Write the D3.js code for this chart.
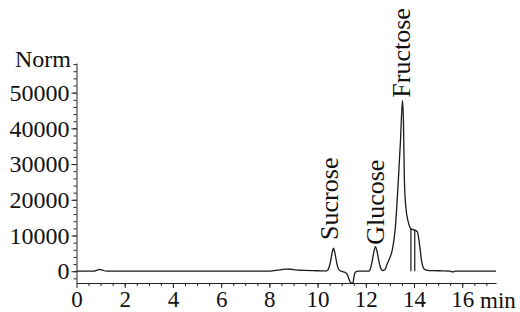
<!DOCTYPE html>
<html>
<head>
<meta charset="utf-8">
<script src="https://cdn.jsdelivr.net/npm/d3@7"></script>
<style>
  body { margin: 0; background: #fff; }
  svg { display: block; }
  text { font-family: "Liberation Serif", "Times New Roman", serif; fill: #111; }
</style>
</head>
<body>
<div id="chart"></div>
<script>
// Chromatogram trace (min, Norm)
const timeMin = [
  0.00, 0.70, 0.85, 0.95, 1.05, 1.25, 3.00, 5.00, 7.00, 7.90,
  8.20, 8.50, 8.70, 8.90, 9.10, 9.40, 9.80, 10.20, 10.35, 10.42,
  10.49, 10.55, 10.61, 10.66, 10.71, 10.77, 10.83, 10.90, 10.98, 11.08,
  11.15, 11.25, 11.32, 11.38, 11.47, 11.50, 11.54, 11.60, 11.68, 11.90,
  12.12, 12.20, 12.27, 12.34, 12.40, 12.46, 12.52, 12.59, 12.66, 12.72,
  12.80, 12.87, 13.00, 13.10, 13.22, 13.35, 13.44, 13.52, 13.56, 13.60,
  13.66, 13.76, 13.88, 14.00, 14.14, 14.23, 14.32, 14.42, 14.55, 14.80,
  15.20, 15.50, 15.60, 15.70, 16.00, 17.40
];
const signal = [
  0, 0, 300, 500, 350, 0, 0, 0, 0, 0,
  150, 450, 600, 550, 350, 250, 150, 100, 50, 300,
  1400, 3200, 5400, 6440, 5400, 3200, 1300, 300, 0, -200,
  -300, -1200, -2600, -3300, -3300, -2000, -600, -100, 0, 0,
  0, 900, 3000, 5600, 6900, 5700, 3600, 1400, 400, 200,
  500, 1760, 3800, 5970, 11850, 25570, 36800, 47790, 42400, 25570,
  18000, 13800, 11850, 11570, 11000, 7370, 2600, 640, 250, 150,
  100, 0, -200, 0, 0, 0
];

// Peak labels
const peakNames = ["Sucrose", "Glucose", "Fructose"];
const peakLabelTime = [10.54, 12.42, 13.49];
const peakLabelValue = [8770, 7400, 48600];

// Integration drop lines under the fructose shoulder
const splitTime = [13.87, 14.03];
const splitValue = [11850, 11600];

// Ticks
const xTicks = [0, 2, 4, 6, 8, 10, 12, 14, 16];
const xMinor = d3.range(0.5, 17.1, 0.5);
const yTicks = [0, 10000, 20000, 30000, 40000, 50000];
const yMinor = d3.range(-2000, 58001, 2000);

const width = 520, height = 312;

const svg = d3.select("#chart")
  .append("svg")
  .attr("width", width)
  .attr("height", height);

const x = d3.scaleLinear().domain([0, 17.4]).range([76.5, 496]);
const y = d3.scaleLinear().domain([-3300, 58300]).range([283, 63]);

// minor ticks first
svg.append("g")
  .attr("transform", `translate(0,${y.range()[0]})`)
  .call(d3.axisBottom(x).tickValues(xMinor).tickSize(3).tickFormat(""))
  .call(g => g.select(".domain").remove());

svg.append("g")
  .attr("transform", `translate(${x.range()[0]},0)`)
  .call(d3.axisLeft(y).tickValues(yMinor).tickSize(3).tickFormat(""))
  .call(g => g.select(".domain").remove());

// main axes
const xAxis = svg.append("g")
  .attr("transform", `translate(0,${y.range()[0]})`)
  .call(d3.axisBottom(x).tickValues(xTicks).tickFormat(d3.format("d"))
    .tickSize(5).tickSizeOuter(0).tickPadding(3));

const yAxis = svg.append("g")
  .attr("transform", `translate(${x.range()[0]},0)`)
  .call(d3.axisLeft(y).tickValues(yTicks).tickFormat(d3.format("d"))
    .tickSize(5).tickSizeOuter(0).tickPadding(2));

svg.selectAll(".tick line, .domain").attr("stroke", "#222");
svg.selectAll(".tick text")
  .style("font-family", '"Liberation Serif", "Times New Roman", serif')
  .attr("fill", "#111");
yAxis.selectAll(".tick text").style("font-size", "24px");
xAxis.selectAll(".tick text").style("font-size", "23px");

// axis titles
svg.append("text")
  .attr("x", 71).attr("y", 67)
  .attr("text-anchor", "end")
  .style("font-size", "24px")
  .text("Norm");

svg.append("text")
  .attr("x", 480).attr("y", 308)
  .style("font-size", "23px")
  .text("min");

// trace
const trace = timeMin.map((t, i) => ({ t, v: signal[i] }));
const line = d3.line()
  .x(d => x(d.t))
  .y(d => y(d.v))
  .curve(d3.curveMonotoneX);

svg.append("path")
  .datum(trace)
  .attr("fill", "none")
  .attr("stroke", "#1a1a1a")
  .attr("stroke-width", 1.3)
  .attr("d", line);

// drop lines
svg.selectAll(".drop")
  .data(splitTime.map((t, i) => ({ t, v: splitValue[i] })))
  .join("line")
  .attr("class", "drop")
  .attr("x1", d => x(d.t)).attr("x2", d => x(d.t))
  .attr("y1", y(0)).attr("y2", d => y(d.v))
  .attr("stroke", "#1a1a1a")
  .attr("stroke-width", 1.2);

// peak labels
svg.selectAll(".peak")
  .data(peakNames.map((name, i) => ({ name, t: peakLabelTime[i], v: peakLabelValue[i] })))
  .join("text")
  .attr("class", "peak")
  .attr("transform", d => `translate(${x(d.t)},${y(d.v)}) rotate(-90)`)
  .attr("dy", "0.3em")
  .style("font-size", "26px")
  .text(d => d.name);
</script>
</body>
</html>
